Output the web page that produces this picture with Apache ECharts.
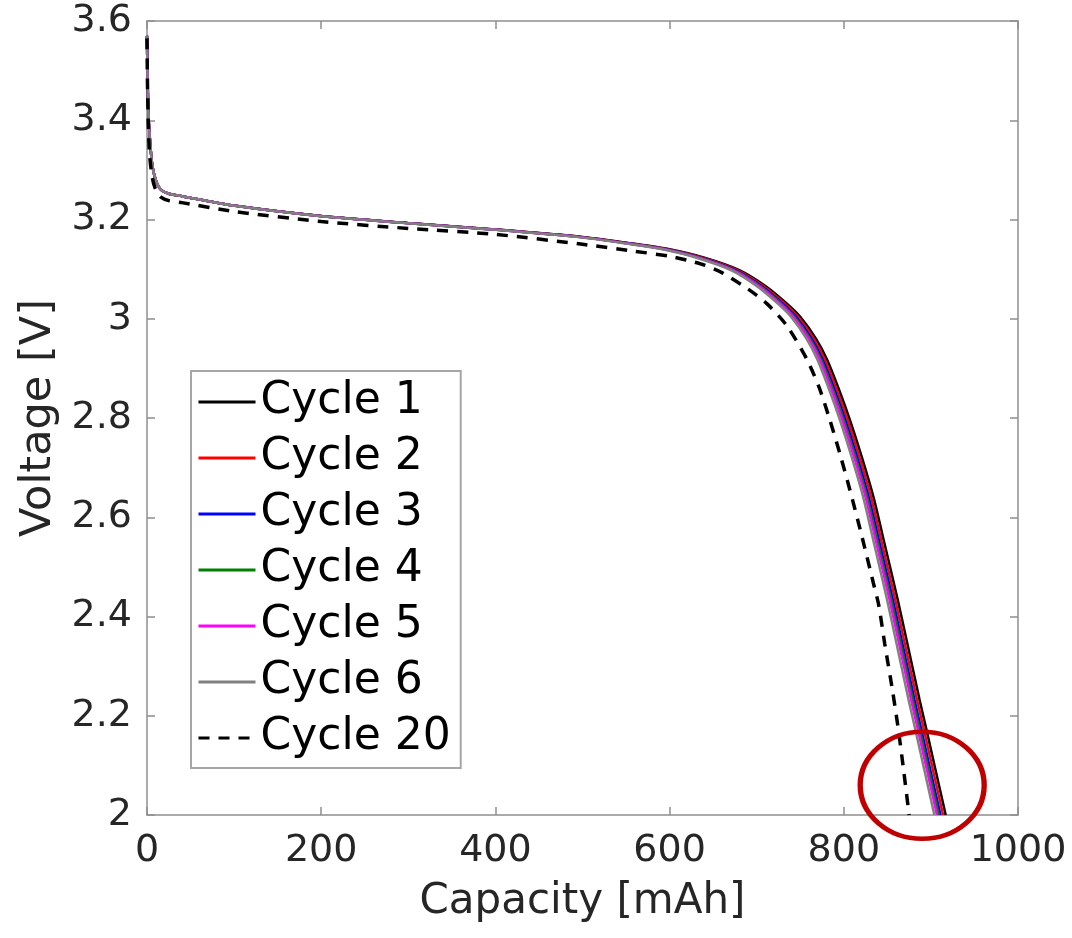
<!DOCTYPE html>
<html>
<head>
<meta charset="utf-8">
<script src="https://cdn.jsdelivr.net/npm/echarts@6/dist/echarts.min.js"></script>
<style>
html,body{margin:0;padding:0;background:#fff;}
#chart{width:1072px;height:938px;}
</style>
</head>
<body>
<div id="chart"></div>
<script>
// ---- Data ----
const seriesNames = ['Cycle 1','Cycle 2','Cycle 3','Cycle 4','Cycle 5','Cycle 6','Cycle 20'];
const xTicks = [0, 200, 400, 600, 800, 1000];
const yTicks = [2, 2.2, 2.4, 2.6, 2.8, 3, 3.2, 3.4, 3.6];

// voltage points shared by cycles 1-6 [V]
const voltageCycles1to6 = [3.57,3.50,3.42,3.37,3.31,3.28,3.26,3.252,3.247,3.228,3.207,3.193,3.180,3.165,3.151,3.140,3.123,3.098,3.066,3.030,3.004,2.960,2.917,2.855,2.796,2.725,2.641,2.545,2.433,2.353,2.232,2.171,2.000];
// capacity [mAh] for each cycle at those voltages
const capacityCycle1 = [0,0.5,1.5,3,6,10,16,25,40,100,200,300,400,500,560,600,640,680,710,735,750,768,781,795,807,820,834,847,862,872,887,895,917];
const capacityCycle2 = [0,0.5,1.5,3,6,10,16,25,40,99.7,199.3,299,398.7,498.4,558.2,598,637.9,677.8,707.7,732.6,747.5,765.5,778.4,792.4,804.4,817.3,831.3,844.2,859.2,869.1,884.1,892.1,914];
const capacityCycle3 = [0,0.5,1.5,3,6,10,16,25,40,99.3,198.7,298,397.4,496.7,556.3,596.1,635.8,675.6,705.4,730.2,745.1,763,775.9,789.8,801.7,814.6,828.5,841.5,856.4,866.3,881.2,889.1,911];
const capacityCycle4 = [0,0.5,1.5,3,6,10,16,25,40,99.1,198.3,297.4,396.5,495.6,555.1,594.8,634.4,674.1,703.8,728.6,743.5,761.3,774.2,788.1,800,812.8,826.7,839.6,854.5,864.4,879.3,887.2,909];
const capacityCycle5 = [0,0.5,1.5,3,6,10,16,25,40,98.9,197.8,296.7,395.6,494.5,553.9,593.5,633,672.6,702.3,727,741.8,759.6,772.5,786.3,798.2,811.1,824.9,837.8,852.6,862.5,877.3,885.2,907];
const capacityCycle6 = [0,0.5,1.5,3,6,10,16,25,40,98.6,197.2,295.7,394.3,492.9,552.1,591.5,630.9,670.4,699.9,724.6,739.4,757.1,769.9,783.7,795.6,808.4,822.2,835,849.8,859.6,874.4,882.3,904];
// cycle 20
const capacityCycle20 = [0,0.5,1.5,3,6,10,16,25,40,100,200,300,400,500,560,600,620,640,660,690,712,735,758,772,784,796,807,820,834,840,847,856,862,868,875];
const voltageCycle20 = [3.565,3.48,3.39,3.33,3.285,3.26,3.245,3.238,3.234,3.216,3.196,3.182,3.170,3.150,3.136,3.126,3.118,3.108,3.093,3.060,3.030,2.985,2.917,2.860,2.796,2.725,2.655,2.567,2.467,2.424,2.345,2.250,2.180,2.100,2.000];

const colors = ['#000000','#ff0000','#0000ff','#008000','#ff00ff','#808080','#000000'];
const capacities = [capacityCycle1, capacityCycle2, capacityCycle3, capacityCycle4, capacityCycle5, capacityCycle6];

const pairs = (xs, ys) => xs.map((x, i) => [x, ys[i]]);

const FONT = 'DejaVu Sans';
const AX = '#8f8f8f';
const TXT = '#262626';

const series = capacities.map((caps, k) => ({
  name: seriesNames[k],
  type: 'line',
  xAxisIndex: 0, yAxisIndex: 0,
  data: pairs(caps, voltageCycles1to6),
  symbol: 'none',
  showSymbol: false,
  smooth: 0.25,
  lineStyle: { color: colors[k], width: 2.5 },
  itemStyle: { color: colors[k] },
  silent: true,
  animation: false
}));
series.push({
  name: seriesNames[6],
  type: 'line',
  xAxisIndex: 0, yAxisIndex: 0,
  data: pairs(capacityCycle20, voltageCycle20),
  symbol: 'none',
  showSymbol: false,
  smooth: 0.25,
  lineStyle: { color: colors[6], width: 3.5, type: [11, 9] },
  itemStyle: { color: colors[6] },
  silent: true,
  animation: false
});

const xBase = {
  type: 'value', min: xTicks[0], max: xTicks[xTicks.length-1], interval: 200,
  splitLine: { show: false },
  axisLine: { show: true, onZero: false, lineStyle: { color: AX, width: 1.5 } },
  axisTick: { show: true, inside: true, length: 8, lineStyle: { color: AX, width: 1.5 } }
};
const yBase = {
  type: 'value', min: yTicks[0], max: yTicks[yTicks.length-1], interval: 0.2,
  splitLine: { show: false },
  axisLine: { show: true, onZero: false, lineStyle: { color: AX, width: 1.5 } },
  axisTick: { show: true, inside: true, length: 8, lineStyle: { color: AX, width: 1.5 } }
};

const chart = echarts.init(document.getElementById('chart'), null, { renderer: 'canvas' });
chart.setOption({
  animation: false,
  backgroundColor: '#ffffff',
  grid: { left: 147, right: 54, top: 21, bottom: 123, containLabel: false, outerBoundsMode: 'none' },
  xAxis: [
    Object.assign({}, xBase, {
      position: 'bottom',
      name: 'Capacity [mAh]', nameLocation: 'middle', nameGap: 66,
      nameTextStyle: { fontFamily: FONT, fontSize: 42, color: TXT },
      axisLabel: { show: true, margin: 17, fontFamily: FONT, fontSize: 38, color: TXT,
                   formatter: v => String(v) }
    }),
    Object.assign({}, xBase, { position: 'top', axisLabel: { show: false } })
  ],
  yAxis: [
    Object.assign({}, yBase, {
      position: 'left',
      name: 'Voltage [V]', nameLocation: 'middle', nameGap: 86, nameRotate: 90,
      nameTextStyle: { fontFamily: FONT, fontSize: 43, color: TXT },
      axisLabel: { show: true, margin: 15, fontFamily: FONT, fontSize: 38, color: TXT,
                   formatter: v => String(Math.round(v * 10) / 10) }
    }),
    Object.assign({}, yBase, { position: 'right', axisLabel: { show: false } })
  ],
  legend: {
    show: true,
    data: seriesNames,
    orient: 'vertical',
    left: 191, top: 371,
    itemWidth: 57, itemHeight: 14, itemGap: 12,
    padding: [9, 10, 8, 6],
    borderColor: '#a6a6a6', borderWidth: 2,
    backgroundColor: '#ffffff',
    selectedMode: false,
    itemStyle: { opacity: 0 },
    lineStyle: { width: 3 },
    textStyle: { fontFamily: FONT, fontSize: 44, color: '#000000', lineHeight: 44 }
  },
  series: series
});

// red ellipse annotation around the end-of-discharge region
const c = chart.convertToPixel({ xAxisIndex: 0, yAxisIndex: 0 }, [890, 2.06]);
chart.setOption({
  graphic: [{
    type: 'circle',
    x: c[0], y: c[1],
    scaleX: 62 / 53.5, scaleY: 1,
    shape: { cx: 0, cy: 0, r: 53.5 },
    style: { fill: 'transparent', stroke: '#c00000', lineWidth: 4.6 },
    z: 100, silent: true
  }]
});
</script>
</body>
</html>
